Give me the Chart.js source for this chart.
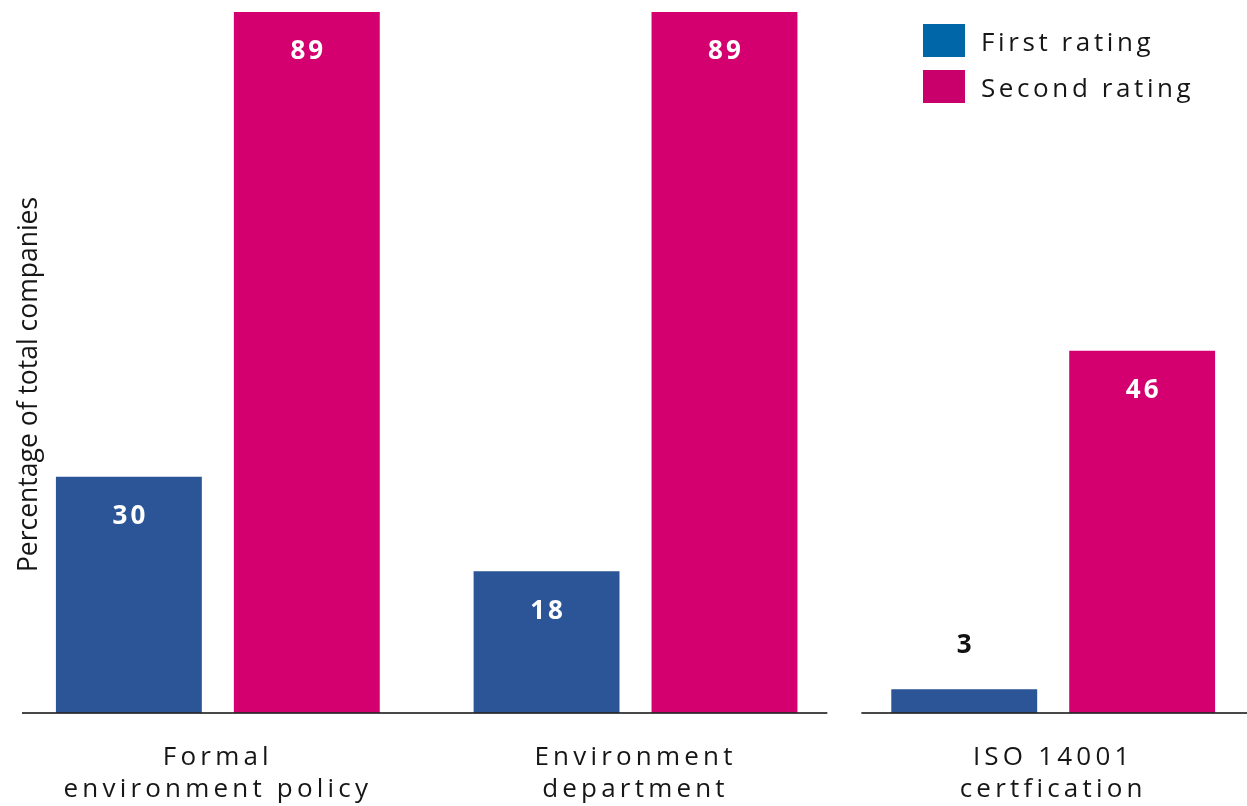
<!DOCTYPE html>
<html>
<head>
<meta charset="utf-8">
<title>Environmental management ratings</title>
<script src="https://cdn.jsdelivr.net/npm/chart.js@4.4.1/dist/chart.umd.min.js"></script>
<style>
  html, body { margin: 0; padding: 0; background: #fff; }
  #grafico-wrap { position: relative; width: 1247px; height: 806px; }
</style>
</head>
<body>
<div id="grafico-wrap"><canvas id="avaliacoesChart"></canvas></div>
<script>
// Dados do gráfico (percentual do total de empresas)
const categorias = [
    ['Formal', 'environment policy'],
    ['Environment', 'department'],
    ['ISO 14001', 'certfication']
];
const primeiraAvaliacao = [30, 18, 3];
const segundaAvaliacao = [89, 89, 46];
const nomesSeries = ['First rating', 'Second rating'];
const tituloEixoY = 'Percentage of total companies';

// Cores: barras e quadradinhos da legenda (a legenda usa tons um pouco diferentes)
const coresBarras = ['#2b5597', '#d4006f'];
const coresLegenda = ['#0066a8', '#c9006b'];
const corTexto = '#161616';

// eixo x linear: cada categoria fica no índice 0, 1, 2
const pontos = valores => valores.map((v, i) => ({ x: i, y: v }));

// Plugin com linha de base, rótulos de valor, legenda e título do eixo Y
const decoracao = {
    id: 'decoracao',
    beforeDraw(chart) {
        // espaçamento entre letras só para os rótulos do eixo x
        chart.ctx.letterSpacing = '4.2px';
    },
    beforeDatasetsDraw(chart) {
        chart.ctx.letterSpacing = '0px';
    },
    afterDatasetsDraw(chart) {
        const { ctx, chartArea, scales: { x, y } } = chart;
        ctx.save();

        // linha de base, interrompida entre o 2º e o 3º grupo
        const yBase = y.getPixelForValue(0);
        const corte = x.getPixelForValue(1.5);
        ctx.strokeStyle = 'rgba(40, 40, 40, 0.85)';
        ctx.lineWidth = 2;
        ctx.beginPath();
        ctx.moveTo(chartArea.left - 20, yBase);
        ctx.lineTo(corte - 17, yBase);
        ctx.moveTo(corte + 17, yBase);
        ctx.lineTo(chartArea.right, yBase);
        ctx.stroke();

        // valores: dentro da barra em branco, acima da barra em preto se for baixa
        ctx.font = 'bold 26px "Open Sans"';
        ctx.letterSpacing = '3px';
        ctx.textAlign = 'center';
        ctx.textBaseline = 'middle';
        chart.data.datasets.forEach((ds, i) => {
            chart.getDatasetMeta(i).data.forEach((barra, j) => {
                const valor = ds.data[j].y;
                const altura = barra.base - barra.y;
                if (altura > 60) {
                    ctx.fillStyle = '#ffffff';
                    ctx.fillText(String(valor), barra.x + 1.5, barra.y + 40);
                } else {
                    ctx.fillStyle = '#111111';
                    ctx.fillText(String(valor), barra.x + 1.5, barra.y - 44);
                }
            });
        });
        ctx.restore();
    },
    afterDraw(chart) {
        const { ctx, chartArea } = chart;
        ctx.save();

        // legenda no canto superior direito
        ctx.font = '26px "Open Sans"';
        ctx.letterSpacing = '3.6px';
        ctx.textAlign = 'left';
        ctx.textBaseline = 'middle';
        nomesSeries.forEach((nome, i) => {
            const topo = 24 + i * 46;
            ctx.fillStyle = coresLegenda[i];
            ctx.fillRect(923, topo, 42, 33);
            ctx.fillStyle = corTexto;
            ctx.fillText(nome, 981, topo + 20);
        });

        // título do eixo Y (girado)
        ctx.letterSpacing = '0px';
        ctx.font = '26.5px "Open Sans"';
        ctx.textAlign = 'center';
        ctx.translate(29, (chartArea.top + chartArea.bottom) / 2 + 22);
        ctx.rotate(-Math.PI / 2);
        ctx.fillText(tituloEixoY, 0, 0);
        ctx.restore();
    }
};

document.addEventListener('DOMContentLoaded', function() {
    const ctx = document.getElementById('avaliacoesChart').getContext('2d');
    new Chart(ctx, {
        type: 'bar',
        data: {
            datasets: [{
                label: nomesSeries[0],
                data: pontos(primeiraAvaliacao),
                backgroundColor: coresBarras[0],
                categoryPercentage: 0.852,
                barPercentage: 0.82
            }, {
                label: nomesSeries[1],
                data: pontos(segundaAvaliacao),
                backgroundColor: coresBarras[1],
                categoryPercentage: 0.852,
                barPercentage: 0.82
            }]
        },
        options: {
            responsive: true,
            maintainAspectRatio: false,
            animation: false,
            layout: { padding: { left: 42, top: 12, right: 0, bottom: 0 } },
            plugins: {
                legend: { display: false },
                tooltip: { enabled: false }
            },
            scales: {
                x: {
                    type: 'linear',
                    offset: false,
                    min: -0.421,
                    max: 2.464,
                    grid: { display: false, drawTicks: false },
                    border: { display: false },
                    afterBuildTicks: escala => {
                        escala.ticks = categorias.map((_, i) => ({ value: i }));
                    },
                    afterFit: escala => { escala.height = 93; },
                    ticks: {
                        autoSkip: false,
                        maxRotation: 0,
                        padding: 28,
                        color: corTexto,
                        font: { family: 'Open Sans', size: 26, lineHeight: 1.24 },
                        callback: valor => categorias[valor]
                    }
                },
                y: { display: false, min: 0, max: 89 }
            }
        },
        plugins: [decoracao]
    });
});
</script>
</body>
</html>
